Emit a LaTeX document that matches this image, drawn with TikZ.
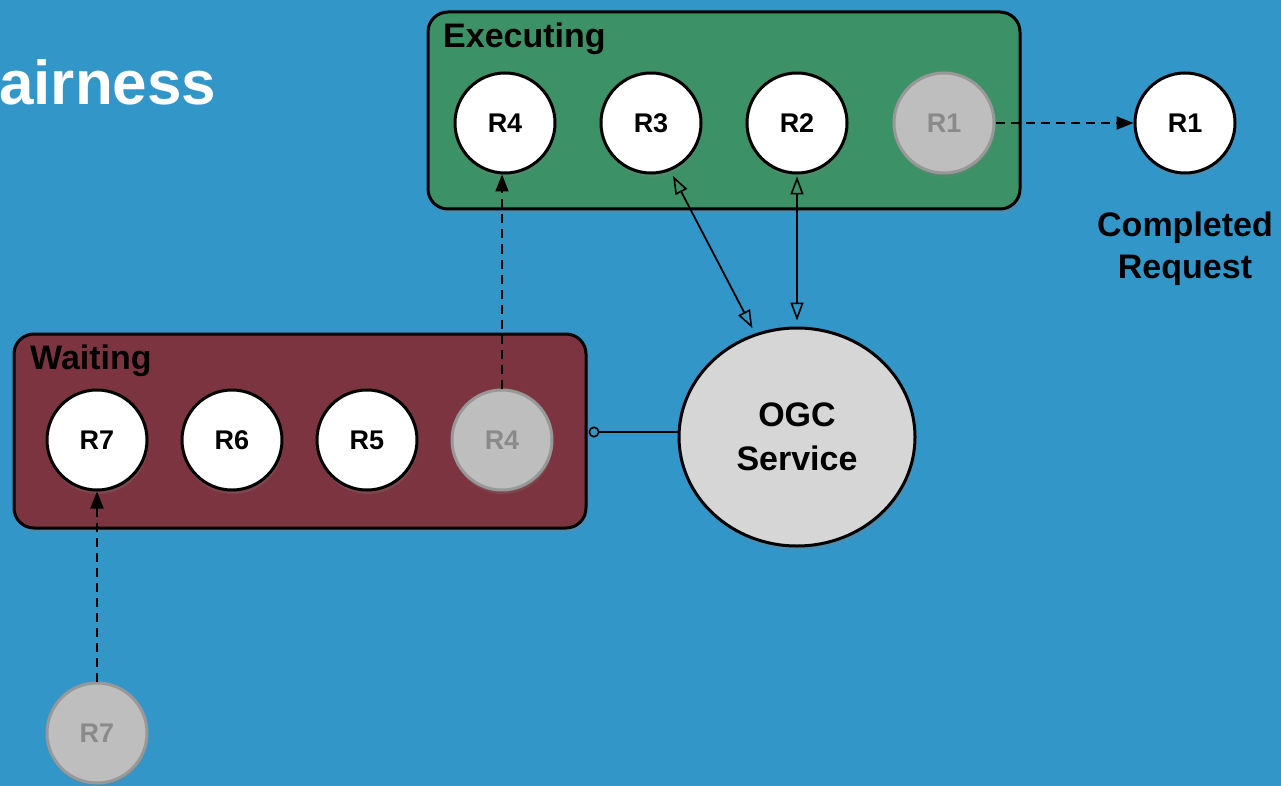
\documentclass[tikz,border=0pt]{standalone}
\usepackage{fontspec}
\setmainfont{Liberation Sans}
\usetikzlibrary{arrows.meta,shapes.geometric,shadows,calc}
\definecolor{bgblue}{RGB}{51,150,200}
\definecolor{execgreen}{RGB}{61,145,102}
\definecolor{waitred}{RGB}{124,53,64}
\definecolor{ogcgray}{RGB}{214,214,214}
\definecolor{ghostfill}{RGB}{190,190,190}
\definecolor{ghostline}{RGB}{152,152,152}
\definecolor{ghosttext}{RGB}{138,138,138}
\tikzset{
  panel/.style={draw=black, line width=3pt, rounded corners=20pt, inner sep=0pt,
    drop shadow={shadow xshift=2pt, shadow yshift=-4pt, opacity=0.3}},
  paneltitle/.style={anchor=base west, font=\fontsize{34}{34}\selectfont\bfseries, inner sep=0pt},
  req/.style={circle, draw=black, line width=3pt, fill=white, minimum size=100pt, inner sep=0pt,
    font=\fontsize{27}{27}\selectfont\bfseries,
    drop shadow={shadow xshift=1pt, shadow yshift=-4pt, opacity=0.25}},
  ghost/.style={req, draw=ghostline, fill=ghostfill, text=ghosttext},
  dasharrow/.style={draw=black, line width=2pt, dash pattern=on 9pt off 6pt,
    -{Triangle[length=17pt,width=13pt]}},
  dbl/.style={draw=black, line width=1.8pt,
    {Triangle[open,length=18pt,width=13pt,line width=1.6pt]}-{Triangle[open,length=18pt,width=13pt,line width=1.6pt]}},
}
\begin{document}
\begin{tikzpicture}[x=1pt,y=-1pt]
\fill[bgblue] (0,0) rectangle (1281,786);
\useasboundingbox (0,0) rectangle (1281,786);
\clip (0,0) rectangle (1281,786);

\node[anchor=base west, text=white, font=\fontsize{62}{62}\selectfont\bfseries, inner sep=0pt] (title) at (-1,105) {airness};

% panels
\node[panel, fill=execgreen, minimum width=592pt, minimum height=197pt] (exec) at (724,110.5) {};
\node[paneltitle] (exectitle) at (443,48) {Executing};
\node[panel, fill=waitred, minimum width=572pt, minimum height=194pt] (wait) at (300,431) {};
\node[paneltitle] (waittitle) at (30,369) {Waiting};

% executing requests
\node[req] (e4) at (505,123) {R4};
\node[req] (e3) at (651,123) {R3};
\node[req] (e2) at (797,123) {R2};
\node[ghost] (e1) at (944,123) {R1};

% completed
\node[req] (c1) at (1185,123) {R1};
\node[align=center, font=\fontsize{34}{42}\selectfont\bfseries, inner sep=0pt] (done) at (1185,249) {Completed\\Request};

% waiting requests
\node[req] (w7) at (97,440) {R7};
\node[req] (w6) at (232,440) {R6};
\node[req] (w5) at (367,440) {R5};
\node[ghost] (w4) at (502,440) {R4};

% incoming
\node[ghost] (g7) at (97,733) {R7};

% service
\node[ellipse, draw=black, line width=3pt, fill=ogcgray, minimum width=236pt, minimum height=218pt,
  inner sep=0pt, align=center, font=\fontsize{34}{44}\selectfont\bfseries,
  drop shadow={shadow xshift=2pt, shadow yshift=-4pt, opacity=0.3}] (ogc) at (797,437) {OGC\\Service};

% connectors
\draw[dasharrow] (w4.north) -- (w4.north |- e4.south);
\draw[dasharrow] (e1.east) -- (c1.west);
\draw[dasharrow] (g7.north) -- (w7.south);
\draw[dbl, shorten <=6pt, shorten >=6pt] (e3.-68) -- (ogc.112);
\draw[dbl, shorten <=2pt, shorten >=6pt] (e2.south) -- (ogc.north);
\coordinate (wx) at ($(wait.east)+(1,1)$);
\draw[black, line width=2pt, {Circle[open,length=11pt,width=11pt,line width=1.6pt]}-] (wx) -- (wx -| ogc.west);
\end{tikzpicture}
\end{document}
